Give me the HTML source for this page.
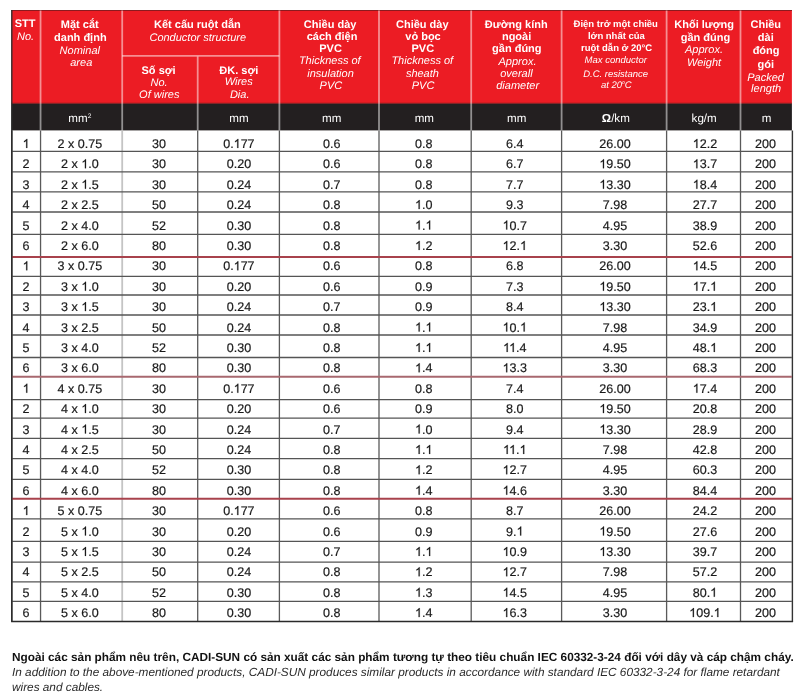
<!DOCTYPE html><html><head><meta charset="utf-8"><style>
html,body{margin:0;padding:0;background:#fff;width:801px;height:700px;overflow:hidden}
svg{position:absolute;left:0;top:0;display:block;filter:blur(0.45px)}
text{font-family:"Liberation Sans", sans-serif;text-rendering:geometricPrecision}
.h{font-weight:bold;font-size:11px;fill:#fff}
.i{font-style:italic;font-size:11px;fill:#fff}
.h8{font-weight:bold;font-size:9.5px;fill:#fff}
.i8{font-style:italic;font-size:9.5px;fill:#fff}
.u{font-size:11.6px;fill:#fff}
.d{font-size:12.55px;fill:#1a1a1a;stroke:#1a1a1a;stroke-width:0.2px}
.o1{fill:none;stroke:none}
.fb{font-weight:bold;font-size:11.8px;fill:#111}
.fi{font-style:italic;font-size:11.8px;fill:#2a2a2a}
</style></head><body>
<svg width="801" height="700" viewBox="0 0 801 700">
<rect x="11.5" y="10" width="780.4" height="93.6" fill="#ec1c24"/>
<rect x="11.5" y="103.6" width="780.4" height="26.80000000000001" fill="#231f20"/>
<rect x="11.5" y="10" width="780.4" height="1" fill="#8b1a1f"/>
<rect x="11.5" y="102.8" width="780.4" height="1" fill="#7a1a1d"/>
<line x1="40.55" y1="10.5" x2="40.55" y2="130.4" stroke="#fff" stroke-opacity="0.5" stroke-width="1.8"/>
<line x1="122.2" y1="10.5" x2="122.2" y2="130.4" stroke="#fff" stroke-opacity="0.5" stroke-width="1.8"/>
<line x1="279.4" y1="10.5" x2="279.4" y2="130.4" stroke="#fff" stroke-opacity="0.5" stroke-width="1.8"/>
<line x1="379" y1="10.5" x2="379" y2="130.4" stroke="#fff" stroke-opacity="0.5" stroke-width="1.8"/>
<line x1="471.2" y1="10.5" x2="471.2" y2="130.4" stroke="#fff" stroke-opacity="0.5" stroke-width="1.8"/>
<line x1="561.6" y1="10.5" x2="561.6" y2="130.4" stroke="#fff" stroke-opacity="0.5" stroke-width="1.8"/>
<line x1="666.6" y1="10.5" x2="666.6" y2="130.4" stroke="#fff" stroke-opacity="0.5" stroke-width="1.8"/>
<line x1="740.5" y1="10.5" x2="740.5" y2="130.4" stroke="#fff" stroke-opacity="0.5" stroke-width="1.8"/>
<line x1="197.7" y1="56.4" x2="197.7" y2="130.4" stroke="#fff" stroke-opacity="0.5" stroke-width="1.8"/>
<line x1="122.2" y1="55.9" x2="279.4" y2="55.9" stroke="#fff" stroke-opacity="0.5" stroke-width="1.8"/>
<line x1="11.8" y1="130.4" x2="11.8" y2="621.5" stroke="#333" stroke-width="1.4"/>
<line x1="40.55" y1="130.4" x2="40.55" y2="621.5" stroke="#5a5a5a" stroke-width="1.3"/>
<line x1="122.2" y1="130.4" x2="122.2" y2="621.5" stroke="#c4c4c4" stroke-width="1.8"/>
<line x1="197.7" y1="130.4" x2="197.7" y2="621.5" stroke="#5a5a5a" stroke-width="1.3"/>
<line x1="279.4" y1="130.4" x2="279.4" y2="621.5" stroke="#5a5a5a" stroke-width="1.3"/>
<line x1="379" y1="130.4" x2="379" y2="621.5" stroke="#5a5a5a" stroke-width="1.3"/>
<line x1="471.2" y1="130.4" x2="471.2" y2="621.5" stroke="#5a5a5a" stroke-width="1.3"/>
<line x1="561.6" y1="130.4" x2="561.6" y2="621.5" stroke="#5a5a5a" stroke-width="1.3"/>
<line x1="666.6" y1="130.4" x2="666.6" y2="621.5" stroke="#5a5a5a" stroke-width="1.3"/>
<line x1="740.5" y1="130.4" x2="740.5" y2="621.5" stroke="#5a5a5a" stroke-width="1.3"/>
<line x1="792.4" y1="130.4" x2="792.4" y2="621.5" stroke="#333" stroke-width="1.4"/>
<line x1="11.5" y1="151.4" x2="791.9" y2="151.4" stroke="#555" stroke-width="1.3"/>
<line x1="11.5" y1="171.85" x2="791.9" y2="171.85" stroke="#555" stroke-width="1.3"/>
<line x1="11.5" y1="191.9" x2="791.9" y2="191.9" stroke="#555" stroke-width="1.3"/>
<line x1="11.5" y1="212" x2="791.9" y2="212" stroke="#555" stroke-width="1.3"/>
<line x1="11.5" y1="234.4" x2="791.9" y2="234.4" stroke="#555" stroke-width="1.3"/>
<line x1="11.5" y1="276.3" x2="791.9" y2="276.3" stroke="#555" stroke-width="1.3"/>
<line x1="11.5" y1="295" x2="791.9" y2="295" stroke="#555" stroke-width="1.3"/>
<line x1="11.5" y1="315" x2="791.9" y2="315" stroke="#555" stroke-width="1.3"/>
<line x1="11.5" y1="335" x2="791.9" y2="335" stroke="#555" stroke-width="1.3"/>
<line x1="11.5" y1="357.5" x2="791.9" y2="357.5" stroke="#555" stroke-width="1.3"/>
<line x1="11.5" y1="399.6" x2="791.9" y2="399.6" stroke="#555" stroke-width="1.3"/>
<line x1="11.5" y1="418.2" x2="791.9" y2="418.2" stroke="#555" stroke-width="1.3"/>
<line x1="11.5" y1="438.4" x2="791.9" y2="438.4" stroke="#555" stroke-width="1.3"/>
<line x1="11.5" y1="458.6" x2="791.9" y2="458.6" stroke="#555" stroke-width="1.3"/>
<line x1="11.5" y1="479.3" x2="791.9" y2="479.3" stroke="#555" stroke-width="1.3"/>
<line x1="11.5" y1="518.9" x2="791.9" y2="518.9" stroke="#555" stroke-width="1.3"/>
<line x1="11.5" y1="541.4" x2="791.9" y2="541.4" stroke="#555" stroke-width="1.3"/>
<line x1="11.5" y1="562.1" x2="791.9" y2="562.1" stroke="#555" stroke-width="1.3"/>
<line x1="11.5" y1="581.9" x2="791.9" y2="581.9" stroke="#555" stroke-width="1.3"/>
<line x1="11.5" y1="601.4" x2="791.9" y2="601.4" stroke="#555" stroke-width="1.3"/>
<line x1="11.5" y1="257" x2="791.9" y2="257" stroke="#a8424c" stroke-width="1.9"/>
<line x1="11.5" y1="376.8" x2="791.9" y2="376.8" stroke="#a8686f" stroke-width="1.9"/>
<line x1="11.5" y1="498.8" x2="791.9" y2="498.8" stroke="#a8424c" stroke-width="1.9"/>
<line x1="11.8" y1="10" x2="11.8" y2="621.5" stroke="#2a2a2a" stroke-width="1.3"/>
<line x1="11.1" y1="621.5" x2="793.1" y2="621.5" stroke="#2a2a2a" stroke-width="1.3"/>
<text x="25.15" y="27.4" class="h" text-anchor="middle">STT</text>
<text x="25.5" y="40.3" class="i" text-anchor="middle">No.</text>
<text x="79.75" y="27.6" class="h" text-anchor="middle">Mặt cắt</text>
<text x="80.35" y="41.2" class="h" text-anchor="middle">danh định</text>
<text x="79.8" y="54.1" class="i" text-anchor="middle">Nominal</text>
<text x="81.25" y="66.3" class="i" text-anchor="middle">area</text>
<text x="197.4" y="27.6" class="h" text-anchor="middle">Kết cấu ruột dẫn</text>
<text x="197.75" y="40.7" class="i" text-anchor="middle">Conductor structure</text>
<text x="158.6" y="73.8" class="h" text-anchor="middle">Số sợi</text>
<text x="159.05" y="85.5" class="i" text-anchor="middle">No.</text>
<text x="159.25" y="97.5" class="i" text-anchor="middle">Of wires</text>
<text x="238.85" y="73.5" class="h" text-anchor="middle">ĐK. sợi</text>
<text x="238.7" y="85.4" class="i" text-anchor="middle">Wires</text>
<text x="239.7" y="97.6" class="i" text-anchor="middle">Dia.</text>
<text x="330.1" y="27.6" class="h" text-anchor="middle">Chiều dày</text>
<text x="332.1" y="39.6" class="h" text-anchor="middle">cách điện</text>
<text x="330.55" y="51.8" class="h" text-anchor="middle">PVC</text>
<text x="329.75" y="64.3" class="i" text-anchor="middle">Thickness of</text>
<text x="330.55" y="77.2" class="i" text-anchor="middle">insulation</text>
<text x="330.9" y="89.4" class="i" text-anchor="middle">PVC</text>
<text x="422.3" y="27.6" class="h" text-anchor="middle">Chiều dày</text>
<text x="423.0" y="39.6" class="h" text-anchor="middle">vỏ bọc</text>
<text x="422.8" y="51.8" class="h" text-anchor="middle">PVC</text>
<text x="422.25" y="64.3" class="i" text-anchor="middle">Thickness of</text>
<text x="422.4" y="77.2" class="i" text-anchor="middle">sheath</text>
<text x="423.1" y="89.4" class="i" text-anchor="middle">PVC</text>
<text x="516.25" y="28" class="h" text-anchor="middle">Đường kính</text>
<text x="516.6" y="40.2" class="h" text-anchor="middle">ngoài</text>
<text x="516.8" y="52.2" class="h" text-anchor="middle">gần đúng</text>
<text x="517.5" y="64.8" class="i" text-anchor="middle">Approx.</text>
<text x="516.4" y="77.3" class="i" text-anchor="middle">overall</text>
<text x="517.65" y="89.4" class="i" text-anchor="middle">diameter</text>
<text x="615.75" y="27.4" class="h8" text-anchor="middle">Điện trở một chiều</text>
<text x="616.45" y="39.2" class="h8" text-anchor="middle">lớn nhất của</text>
<text x="616.6" y="51.4" class="h8" text-anchor="middle">ruột dẫn ở 20°C</text>
<text x="615.75" y="63.4" class="i8" text-anchor="middle">Max conductor</text>
<text x="615.6" y="76.7" class="i8" text-anchor="middle">D.C. resistance</text>
<text x="616.3" y="88.2" class="i8" text-anchor="middle">at 20<tspan font-size="5" dy="-4.3">o</tspan><tspan dy="4.3">C</tspan></text>
<text x="704.15" y="28.2" class="h" text-anchor="middle">Khối lượng</text>
<text x="705.45" y="41" class="h" text-anchor="middle">gần đúng</text>
<text x="704.0" y="53" class="i" text-anchor="middle">Approx.</text>
<text x="704.1" y="65.6" class="i" text-anchor="middle">Weight</text>
<text x="765.8" y="27.6" class="h" text-anchor="middle">Chiều</text>
<text x="765.75" y="40.6" class="h" text-anchor="middle">dài</text>
<text x="766.1" y="53.8" class="h" text-anchor="middle">đóng</text>
<text x="765.75" y="67.6" class="h" text-anchor="middle">gói</text>
<text x="765.6" y="80.6" class="i" text-anchor="middle">Packed</text>
<text x="766.1" y="92.4" class="i" text-anchor="middle">length</text>
<text x="79.8" y="121.8" class="u" text-anchor="middle">mm<tspan font-size="6.6" dy="-3.5">2</tspan></text>
<text x="238.95" y="121.8" class="u" text-anchor="middle">mm</text>
<text x="331.7" y="121.8" class="u" text-anchor="middle">mm</text>
<text x="424.3" y="121.8" class="u" text-anchor="middle">mm</text>
<text x="516.75" y="121.8" class="u" text-anchor="middle">mm</text>
<text x="615.85" y="121.8" class="u" text-anchor="middle"><tspan font-weight="bold">Ω</tspan>/km</text>
<text x="704.15" y="121.8" class="u" text-anchor="middle">kg/m</text>
<text x="766.48" y="121.8" class="u" text-anchor="middle">m</text>
<text x="26.1" y="147.9" class="d" text-anchor="middle"><tspan class="o1">1</tspan></text>
<text x="79.95" y="147.9" class="d" text-anchor="middle">2 x 0.75</text>
<text x="158.9" y="147.9" class="d" text-anchor="middle">30</text>
<text x="238.9" y="147.9" class="d" text-anchor="middle">0.<tspan class="o1">1</tspan>77</text>
<text x="331.75" y="147.9" class="d" text-anchor="middle">0.6</text>
<text x="423.75" y="147.9" class="d" text-anchor="middle">0.8</text>
<text x="514.8" y="147.9" class="d" text-anchor="middle">6.4</text>
<text x="615.05" y="147.9" class="d" text-anchor="middle">26.00</text>
<text x="704.9499999999999" y="147.9" class="d" text-anchor="middle"><tspan class="o1">1</tspan>2.2</text>
<text x="765.5" y="147.9" class="d" text-anchor="middle">200</text>
<text x="26.1" y="168.3" class="d" text-anchor="middle">2</text>
<text x="79.95" y="168.3" class="d" text-anchor="middle">2 x <tspan class="o1">1</tspan>.0</text>
<text x="158.9" y="168.3" class="d" text-anchor="middle">30</text>
<text x="238.9" y="168.3" class="d" text-anchor="middle">0.20</text>
<text x="331.75" y="168.3" class="d" text-anchor="middle">0.6</text>
<text x="423.75" y="168.3" class="d" text-anchor="middle">0.8</text>
<text x="514.8" y="168.3" class="d" text-anchor="middle">6.7</text>
<text x="615.05" y="168.3" class="d" text-anchor="middle"><tspan class="o1">1</tspan>9.50</text>
<text x="704.9499999999999" y="168.3" class="d" text-anchor="middle"><tspan class="o1">1</tspan>3.7</text>
<text x="765.5" y="168.3" class="d" text-anchor="middle">200</text>
<text x="26.1" y="188.7" class="d" text-anchor="middle">3</text>
<text x="79.95" y="188.7" class="d" text-anchor="middle">2 x <tspan class="o1">1</tspan>.5</text>
<text x="158.9" y="188.7" class="d" text-anchor="middle">30</text>
<text x="238.9" y="188.7" class="d" text-anchor="middle">0.24</text>
<text x="331.75" y="188.7" class="d" text-anchor="middle">0.7</text>
<text x="423.75" y="188.7" class="d" text-anchor="middle">0.8</text>
<text x="514.8" y="188.7" class="d" text-anchor="middle">7.7</text>
<text x="615.05" y="188.7" class="d" text-anchor="middle"><tspan class="o1">1</tspan>3.30</text>
<text x="704.9499999999999" y="188.7" class="d" text-anchor="middle"><tspan class="o1">1</tspan>8.4</text>
<text x="765.5" y="188.7" class="d" text-anchor="middle">200</text>
<text x="26.1" y="209.1" class="d" text-anchor="middle">4</text>
<text x="79.95" y="209.1" class="d" text-anchor="middle">2 x 2.5</text>
<text x="158.9" y="209.1" class="d" text-anchor="middle">50</text>
<text x="238.9" y="209.1" class="d" text-anchor="middle">0.24</text>
<text x="331.75" y="209.1" class="d" text-anchor="middle">0.8</text>
<text x="423.75" y="209.1" class="d" text-anchor="middle"><tspan class="o1">1</tspan>.0</text>
<text x="514.8" y="209.1" class="d" text-anchor="middle">9.3</text>
<text x="615.05" y="209.1" class="d" text-anchor="middle">7.98</text>
<text x="704.9499999999999" y="209.1" class="d" text-anchor="middle">27.7</text>
<text x="765.5" y="209.1" class="d" text-anchor="middle">200</text>
<text x="26.1" y="229.5" class="d" text-anchor="middle">5</text>
<text x="79.95" y="229.5" class="d" text-anchor="middle">2 x 4.0</text>
<text x="158.9" y="229.5" class="d" text-anchor="middle">52</text>
<text x="238.9" y="229.5" class="d" text-anchor="middle">0.30</text>
<text x="331.75" y="229.5" class="d" text-anchor="middle">0.8</text>
<text x="423.75" y="229.5" class="d" text-anchor="middle"><tspan class="o1">1</tspan>.<tspan class="o1">1</tspan></text>
<text x="514.8" y="229.5" class="d" text-anchor="middle"><tspan class="o1">1</tspan>0.7</text>
<text x="615.05" y="229.5" class="d" text-anchor="middle">4.95</text>
<text x="704.9499999999999" y="229.5" class="d" text-anchor="middle">38.9</text>
<text x="765.5" y="229.5" class="d" text-anchor="middle">200</text>
<text x="26.1" y="249.9" class="d" text-anchor="middle">6</text>
<text x="79.95" y="249.9" class="d" text-anchor="middle">2 x 6.0</text>
<text x="158.9" y="249.9" class="d" text-anchor="middle">80</text>
<text x="238.9" y="249.9" class="d" text-anchor="middle">0.30</text>
<text x="331.75" y="249.9" class="d" text-anchor="middle">0.8</text>
<text x="423.75" y="249.9" class="d" text-anchor="middle"><tspan class="o1">1</tspan>.2</text>
<text x="514.8" y="249.9" class="d" text-anchor="middle"><tspan class="o1">1</tspan>2.<tspan class="o1">1</tspan></text>
<text x="615.05" y="249.9" class="d" text-anchor="middle">3.30</text>
<text x="704.9499999999999" y="249.9" class="d" text-anchor="middle">52.6</text>
<text x="765.5" y="249.9" class="d" text-anchor="middle">200</text>
<text x="26.1" y="270.3" class="d" text-anchor="middle"><tspan class="o1">1</tspan></text>
<text x="79.95" y="270.3" class="d" text-anchor="middle">3 x 0.75</text>
<text x="158.9" y="270.3" class="d" text-anchor="middle">30</text>
<text x="238.9" y="270.3" class="d" text-anchor="middle">0.<tspan class="o1">1</tspan>77</text>
<text x="331.75" y="270.3" class="d" text-anchor="middle">0.6</text>
<text x="423.75" y="270.3" class="d" text-anchor="middle">0.8</text>
<text x="514.8" y="270.3" class="d" text-anchor="middle">6.8</text>
<text x="615.05" y="270.3" class="d" text-anchor="middle">26.00</text>
<text x="704.9499999999999" y="270.3" class="d" text-anchor="middle"><tspan class="o1">1</tspan>4.5</text>
<text x="765.5" y="270.3" class="d" text-anchor="middle">200</text>
<text x="26.1" y="290.7" class="d" text-anchor="middle">2</text>
<text x="79.95" y="290.7" class="d" text-anchor="middle">3 x <tspan class="o1">1</tspan>.0</text>
<text x="158.9" y="290.7" class="d" text-anchor="middle">30</text>
<text x="238.9" y="290.7" class="d" text-anchor="middle">0.20</text>
<text x="331.75" y="290.7" class="d" text-anchor="middle">0.6</text>
<text x="423.75" y="290.7" class="d" text-anchor="middle">0.9</text>
<text x="514.8" y="290.7" class="d" text-anchor="middle">7.3</text>
<text x="615.05" y="290.7" class="d" text-anchor="middle"><tspan class="o1">1</tspan>9.50</text>
<text x="704.9499999999999" y="290.7" class="d" text-anchor="middle"><tspan class="o1">1</tspan>7.<tspan class="o1">1</tspan></text>
<text x="765.5" y="290.7" class="d" text-anchor="middle">200</text>
<text x="26.1" y="311.1" class="d" text-anchor="middle">3</text>
<text x="79.95" y="311.1" class="d" text-anchor="middle">3 x <tspan class="o1">1</tspan>.5</text>
<text x="158.9" y="311.1" class="d" text-anchor="middle">30</text>
<text x="238.9" y="311.1" class="d" text-anchor="middle">0.24</text>
<text x="331.75" y="311.1" class="d" text-anchor="middle">0.7</text>
<text x="423.75" y="311.1" class="d" text-anchor="middle">0.9</text>
<text x="514.8" y="311.1" class="d" text-anchor="middle">8.4</text>
<text x="615.05" y="311.1" class="d" text-anchor="middle"><tspan class="o1">1</tspan>3.30</text>
<text x="704.9499999999999" y="311.1" class="d" text-anchor="middle">23.<tspan class="o1">1</tspan></text>
<text x="765.5" y="311.1" class="d" text-anchor="middle">200</text>
<text x="26.1" y="331.5" class="d" text-anchor="middle">4</text>
<text x="79.95" y="331.5" class="d" text-anchor="middle">3 x 2.5</text>
<text x="158.9" y="331.5" class="d" text-anchor="middle">50</text>
<text x="238.9" y="331.5" class="d" text-anchor="middle">0.24</text>
<text x="331.75" y="331.5" class="d" text-anchor="middle">0.8</text>
<text x="423.75" y="331.5" class="d" text-anchor="middle"><tspan class="o1">1</tspan>.<tspan class="o1">1</tspan></text>
<text x="514.8" y="331.5" class="d" text-anchor="middle"><tspan class="o1">1</tspan>0.<tspan class="o1">1</tspan></text>
<text x="615.05" y="331.5" class="d" text-anchor="middle">7.98</text>
<text x="704.9499999999999" y="331.5" class="d" text-anchor="middle">34.9</text>
<text x="765.5" y="331.5" class="d" text-anchor="middle">200</text>
<text x="26.1" y="351.9" class="d" text-anchor="middle">5</text>
<text x="79.95" y="351.9" class="d" text-anchor="middle">3 x 4.0</text>
<text x="158.9" y="351.9" class="d" text-anchor="middle">52</text>
<text x="238.9" y="351.9" class="d" text-anchor="middle">0.30</text>
<text x="331.75" y="351.9" class="d" text-anchor="middle">0.8</text>
<text x="423.75" y="351.9" class="d" text-anchor="middle"><tspan class="o1">1</tspan>.<tspan class="o1">1</tspan></text>
<text x="514.8" y="351.9" class="d" text-anchor="middle"><tspan class="o1">1</tspan><tspan class="o1">1</tspan>.4</text>
<text x="615.05" y="351.9" class="d" text-anchor="middle">4.95</text>
<text x="704.9499999999999" y="351.9" class="d" text-anchor="middle">48.<tspan class="o1">1</tspan></text>
<text x="765.5" y="351.9" class="d" text-anchor="middle">200</text>
<text x="26.1" y="372.3" class="d" text-anchor="middle">6</text>
<text x="79.95" y="372.3" class="d" text-anchor="middle">3 x 6.0</text>
<text x="158.9" y="372.3" class="d" text-anchor="middle">80</text>
<text x="238.9" y="372.3" class="d" text-anchor="middle">0.30</text>
<text x="331.75" y="372.3" class="d" text-anchor="middle">0.8</text>
<text x="423.75" y="372.3" class="d" text-anchor="middle"><tspan class="o1">1</tspan>.4</text>
<text x="514.8" y="372.3" class="d" text-anchor="middle"><tspan class="o1">1</tspan>3.3</text>
<text x="615.05" y="372.3" class="d" text-anchor="middle">3.30</text>
<text x="704.9499999999999" y="372.3" class="d" text-anchor="middle">68.3</text>
<text x="765.5" y="372.3" class="d" text-anchor="middle">200</text>
<text x="26.1" y="392.7" class="d" text-anchor="middle"><tspan class="o1">1</tspan></text>
<text x="79.95" y="392.7" class="d" text-anchor="middle">4 x 0.75</text>
<text x="158.9" y="392.7" class="d" text-anchor="middle">30</text>
<text x="238.9" y="392.7" class="d" text-anchor="middle">0.<tspan class="o1">1</tspan>77</text>
<text x="331.75" y="392.7" class="d" text-anchor="middle">0.6</text>
<text x="423.75" y="392.7" class="d" text-anchor="middle">0.8</text>
<text x="514.8" y="392.7" class="d" text-anchor="middle">7.4</text>
<text x="615.05" y="392.7" class="d" text-anchor="middle">26.00</text>
<text x="704.9499999999999" y="392.7" class="d" text-anchor="middle"><tspan class="o1">1</tspan>7.4</text>
<text x="765.5" y="392.7" class="d" text-anchor="middle">200</text>
<text x="26.1" y="413.1" class="d" text-anchor="middle">2</text>
<text x="79.95" y="413.1" class="d" text-anchor="middle">4 x <tspan class="o1">1</tspan>.0</text>
<text x="158.9" y="413.1" class="d" text-anchor="middle">30</text>
<text x="238.9" y="413.1" class="d" text-anchor="middle">0.20</text>
<text x="331.75" y="413.1" class="d" text-anchor="middle">0.6</text>
<text x="423.75" y="413.1" class="d" text-anchor="middle">0.9</text>
<text x="514.8" y="413.1" class="d" text-anchor="middle">8.0</text>
<text x="615.05" y="413.1" class="d" text-anchor="middle"><tspan class="o1">1</tspan>9.50</text>
<text x="704.9499999999999" y="413.1" class="d" text-anchor="middle">20.8</text>
<text x="765.5" y="413.1" class="d" text-anchor="middle">200</text>
<text x="26.1" y="433.5" class="d" text-anchor="middle">3</text>
<text x="79.95" y="433.5" class="d" text-anchor="middle">4 x <tspan class="o1">1</tspan>.5</text>
<text x="158.9" y="433.5" class="d" text-anchor="middle">30</text>
<text x="238.9" y="433.5" class="d" text-anchor="middle">0.24</text>
<text x="331.75" y="433.5" class="d" text-anchor="middle">0.7</text>
<text x="423.75" y="433.5" class="d" text-anchor="middle"><tspan class="o1">1</tspan>.0</text>
<text x="514.8" y="433.5" class="d" text-anchor="middle">9.4</text>
<text x="615.05" y="433.5" class="d" text-anchor="middle"><tspan class="o1">1</tspan>3.30</text>
<text x="704.9499999999999" y="433.5" class="d" text-anchor="middle">28.9</text>
<text x="765.5" y="433.5" class="d" text-anchor="middle">200</text>
<text x="26.1" y="453.9" class="d" text-anchor="middle">4</text>
<text x="79.95" y="453.9" class="d" text-anchor="middle">4 x 2.5</text>
<text x="158.9" y="453.9" class="d" text-anchor="middle">50</text>
<text x="238.9" y="453.9" class="d" text-anchor="middle">0.24</text>
<text x="331.75" y="453.9" class="d" text-anchor="middle">0.8</text>
<text x="423.75" y="453.9" class="d" text-anchor="middle"><tspan class="o1">1</tspan>.<tspan class="o1">1</tspan></text>
<text x="514.8" y="453.9" class="d" text-anchor="middle"><tspan class="o1">1</tspan><tspan class="o1">1</tspan>.<tspan class="o1">1</tspan></text>
<text x="615.05" y="453.9" class="d" text-anchor="middle">7.98</text>
<text x="704.9499999999999" y="453.9" class="d" text-anchor="middle">42.8</text>
<text x="765.5" y="453.9" class="d" text-anchor="middle">200</text>
<text x="26.1" y="474.3" class="d" text-anchor="middle">5</text>
<text x="79.95" y="474.3" class="d" text-anchor="middle">4 x 4.0</text>
<text x="158.9" y="474.3" class="d" text-anchor="middle">52</text>
<text x="238.9" y="474.3" class="d" text-anchor="middle">0.30</text>
<text x="331.75" y="474.3" class="d" text-anchor="middle">0.8</text>
<text x="423.75" y="474.3" class="d" text-anchor="middle"><tspan class="o1">1</tspan>.2</text>
<text x="514.8" y="474.3" class="d" text-anchor="middle"><tspan class="o1">1</tspan>2.7</text>
<text x="615.05" y="474.3" class="d" text-anchor="middle">4.95</text>
<text x="704.9499999999999" y="474.3" class="d" text-anchor="middle">60.3</text>
<text x="765.5" y="474.3" class="d" text-anchor="middle">200</text>
<text x="26.1" y="494.7" class="d" text-anchor="middle">6</text>
<text x="79.95" y="494.7" class="d" text-anchor="middle">4 x 6.0</text>
<text x="158.9" y="494.7" class="d" text-anchor="middle">80</text>
<text x="238.9" y="494.7" class="d" text-anchor="middle">0.30</text>
<text x="331.75" y="494.7" class="d" text-anchor="middle">0.8</text>
<text x="423.75" y="494.7" class="d" text-anchor="middle"><tspan class="o1">1</tspan>.4</text>
<text x="514.8" y="494.7" class="d" text-anchor="middle"><tspan class="o1">1</tspan>4.6</text>
<text x="615.05" y="494.7" class="d" text-anchor="middle">3.30</text>
<text x="704.9499999999999" y="494.7" class="d" text-anchor="middle">84.4</text>
<text x="765.5" y="494.7" class="d" text-anchor="middle">200</text>
<text x="26.1" y="515.1" class="d" text-anchor="middle"><tspan class="o1">1</tspan></text>
<text x="79.95" y="515.1" class="d" text-anchor="middle">5 x 0.75</text>
<text x="158.9" y="515.1" class="d" text-anchor="middle">30</text>
<text x="238.9" y="515.1" class="d" text-anchor="middle">0.<tspan class="o1">1</tspan>77</text>
<text x="331.75" y="515.1" class="d" text-anchor="middle">0.6</text>
<text x="423.75" y="515.1" class="d" text-anchor="middle">0.8</text>
<text x="514.8" y="515.1" class="d" text-anchor="middle">8.7</text>
<text x="615.05" y="515.1" class="d" text-anchor="middle">26.00</text>
<text x="704.9499999999999" y="515.1" class="d" text-anchor="middle">24.2</text>
<text x="765.5" y="515.1" class="d" text-anchor="middle">200</text>
<text x="26.1" y="535.5" class="d" text-anchor="middle">2</text>
<text x="79.95" y="535.5" class="d" text-anchor="middle">5 x <tspan class="o1">1</tspan>.0</text>
<text x="158.9" y="535.5" class="d" text-anchor="middle">30</text>
<text x="238.9" y="535.5" class="d" text-anchor="middle">0.20</text>
<text x="331.75" y="535.5" class="d" text-anchor="middle">0.6</text>
<text x="423.75" y="535.5" class="d" text-anchor="middle">0.9</text>
<text x="514.8" y="535.5" class="d" text-anchor="middle">9.<tspan class="o1">1</tspan></text>
<text x="615.05" y="535.5" class="d" text-anchor="middle"><tspan class="o1">1</tspan>9.50</text>
<text x="704.9499999999999" y="535.5" class="d" text-anchor="middle">27.6</text>
<text x="765.5" y="535.5" class="d" text-anchor="middle">200</text>
<text x="26.1" y="555.9" class="d" text-anchor="middle">3</text>
<text x="79.95" y="555.9" class="d" text-anchor="middle">5 x <tspan class="o1">1</tspan>.5</text>
<text x="158.9" y="555.9" class="d" text-anchor="middle">30</text>
<text x="238.9" y="555.9" class="d" text-anchor="middle">0.24</text>
<text x="331.75" y="555.9" class="d" text-anchor="middle">0.7</text>
<text x="423.75" y="555.9" class="d" text-anchor="middle"><tspan class="o1">1</tspan>.<tspan class="o1">1</tspan></text>
<text x="514.8" y="555.9" class="d" text-anchor="middle"><tspan class="o1">1</tspan>0.9</text>
<text x="615.05" y="555.9" class="d" text-anchor="middle"><tspan class="o1">1</tspan>3.30</text>
<text x="704.9499999999999" y="555.9" class="d" text-anchor="middle">39.7</text>
<text x="765.5" y="555.9" class="d" text-anchor="middle">200</text>
<text x="26.1" y="576.3" class="d" text-anchor="middle">4</text>
<text x="79.95" y="576.3" class="d" text-anchor="middle">5 x 2.5</text>
<text x="158.9" y="576.3" class="d" text-anchor="middle">50</text>
<text x="238.9" y="576.3" class="d" text-anchor="middle">0.24</text>
<text x="331.75" y="576.3" class="d" text-anchor="middle">0.8</text>
<text x="423.75" y="576.3" class="d" text-anchor="middle"><tspan class="o1">1</tspan>.2</text>
<text x="514.8" y="576.3" class="d" text-anchor="middle"><tspan class="o1">1</tspan>2.7</text>
<text x="615.05" y="576.3" class="d" text-anchor="middle">7.98</text>
<text x="704.9499999999999" y="576.3" class="d" text-anchor="middle">57.2</text>
<text x="765.5" y="576.3" class="d" text-anchor="middle">200</text>
<text x="26.1" y="596.7" class="d" text-anchor="middle">5</text>
<text x="79.95" y="596.7" class="d" text-anchor="middle">5 x 4.0</text>
<text x="158.9" y="596.7" class="d" text-anchor="middle">52</text>
<text x="238.9" y="596.7" class="d" text-anchor="middle">0.30</text>
<text x="331.75" y="596.7" class="d" text-anchor="middle">0.8</text>
<text x="423.75" y="596.7" class="d" text-anchor="middle"><tspan class="o1">1</tspan>.3</text>
<text x="514.8" y="596.7" class="d" text-anchor="middle"><tspan class="o1">1</tspan>4.5</text>
<text x="615.05" y="596.7" class="d" text-anchor="middle">4.95</text>
<text x="704.9499999999999" y="596.7" class="d" text-anchor="middle">80.<tspan class="o1">1</tspan></text>
<text x="765.5" y="596.7" class="d" text-anchor="middle">200</text>
<text x="26.1" y="617.1" class="d" text-anchor="middle">6</text>
<text x="79.95" y="617.1" class="d" text-anchor="middle">5 x 6.0</text>
<text x="158.9" y="617.1" class="d" text-anchor="middle">80</text>
<text x="238.9" y="617.1" class="d" text-anchor="middle">0.30</text>
<text x="331.75" y="617.1" class="d" text-anchor="middle">0.8</text>
<text x="423.75" y="617.1" class="d" text-anchor="middle"><tspan class="o1">1</tspan>.4</text>
<text x="514.8" y="617.1" class="d" text-anchor="middle"><tspan class="o1">1</tspan>6.3</text>
<text x="615.05" y="617.1" class="d" text-anchor="middle">3.30</text>
<text x="704.9499999999999" y="617.1" class="d" text-anchor="middle"><tspan class="o1">1</tspan>09.<tspan class="o1">1</tspan></text>
<text x="765.5" y="617.1" class="d" text-anchor="middle">200</text>
<text x="12" y="660.9" class="fb">Ngoài các sản phẩm nêu trên, CADI-SUN có sản xuất các sản phẩm tương tự theo tiêu chuẩn IEC 60332-3-24 đối với dây và cáp chậm cháy.</text>
<text x="12" y="676" class="fi">In addition to the above-mentioned products, CADI-SUN produces similar products in accordance with standard IEC 60332-3-24 for flame retardant</text>
<text x="12" y="690.7" class="fi">wires and cables.</text>
<defs><path id="one" d="M583 0L763 0L763 1466L646 1466Q599 1370 486 1272Q373 1174 222 1098L222 928Q306 960 412 1022Q518 1084 583 1147Z"/></defs>
<use href="#one" fill="#1a1a1a" stroke="#1a1a1a" stroke-width="32.6" transform="translate(22.61 147.90) scale(0.006128 -0.006128)"/>
<use href="#one" fill="#1a1a1a" stroke="#1a1a1a" stroke-width="32.6" transform="translate(233.66 147.90) scale(0.006128 -0.006128)"/>
<use href="#one" fill="#1a1a1a" stroke="#1a1a1a" stroke-width="32.6" transform="translate(692.73 147.90) scale(0.006128 -0.006128)"/>
<use href="#one" fill="#1a1a1a" stroke="#1a1a1a" stroke-width="32.6" transform="translate(81.34 168.30) scale(0.006128 -0.006128)"/>
<use href="#one" fill="#1a1a1a" stroke="#1a1a1a" stroke-width="32.6" transform="translate(599.35 168.30) scale(0.006128 -0.006128)"/>
<use href="#one" fill="#1a1a1a" stroke="#1a1a1a" stroke-width="32.6" transform="translate(692.73 168.30) scale(0.006128 -0.006128)"/>
<use href="#one" fill="#1a1a1a" stroke="#1a1a1a" stroke-width="32.6" transform="translate(81.34 188.70) scale(0.006128 -0.006128)"/>
<use href="#one" fill="#1a1a1a" stroke="#1a1a1a" stroke-width="32.6" transform="translate(599.35 188.70) scale(0.006128 -0.006128)"/>
<use href="#one" fill="#1a1a1a" stroke="#1a1a1a" stroke-width="32.6" transform="translate(692.73 188.70) scale(0.006128 -0.006128)"/>
<use href="#one" fill="#1a1a1a" stroke="#1a1a1a" stroke-width="32.6" transform="translate(415.02 209.10) scale(0.006128 -0.006128)"/>
<use href="#one" fill="#1a1a1a" stroke="#1a1a1a" stroke-width="32.6" transform="translate(415.02 229.50) scale(0.006128 -0.006128)"/>
<use href="#one" fill="#1a1a1a" stroke="#1a1a1a" stroke-width="32.6" transform="translate(425.50 229.50) scale(0.006128 -0.006128)"/>
<use href="#one" fill="#1a1a1a" stroke="#1a1a1a" stroke-width="32.6" transform="translate(502.58 229.50) scale(0.006128 -0.006128)"/>
<use href="#one" fill="#1a1a1a" stroke="#1a1a1a" stroke-width="32.6" transform="translate(415.02 249.90) scale(0.006128 -0.006128)"/>
<use href="#one" fill="#1a1a1a" stroke="#1a1a1a" stroke-width="32.6" transform="translate(502.58 249.90) scale(0.006128 -0.006128)"/>
<use href="#one" fill="#1a1a1a" stroke="#1a1a1a" stroke-width="32.6" transform="translate(520.03 249.90) scale(0.006128 -0.006128)"/>
<use href="#one" fill="#1a1a1a" stroke="#1a1a1a" stroke-width="32.6" transform="translate(22.61 270.30) scale(0.006128 -0.006128)"/>
<use href="#one" fill="#1a1a1a" stroke="#1a1a1a" stroke-width="32.6" transform="translate(233.66 270.30) scale(0.006128 -0.006128)"/>
<use href="#one" fill="#1a1a1a" stroke="#1a1a1a" stroke-width="32.6" transform="translate(692.73 270.30) scale(0.006128 -0.006128)"/>
<use href="#one" fill="#1a1a1a" stroke="#1a1a1a" stroke-width="32.6" transform="translate(81.34 290.70) scale(0.006128 -0.006128)"/>
<use href="#one" fill="#1a1a1a" stroke="#1a1a1a" stroke-width="32.6" transform="translate(599.35 290.70) scale(0.006128 -0.006128)"/>
<use href="#one" fill="#1a1a1a" stroke="#1a1a1a" stroke-width="32.6" transform="translate(692.73 290.70) scale(0.006128 -0.006128)"/>
<use href="#one" fill="#1a1a1a" stroke="#1a1a1a" stroke-width="32.6" transform="translate(710.18 290.70) scale(0.006128 -0.006128)"/>
<use href="#one" fill="#1a1a1a" stroke="#1a1a1a" stroke-width="32.6" transform="translate(81.34 311.10) scale(0.006128 -0.006128)"/>
<use href="#one" fill="#1a1a1a" stroke="#1a1a1a" stroke-width="32.6" transform="translate(599.35 311.10) scale(0.006128 -0.006128)"/>
<use href="#one" fill="#1a1a1a" stroke="#1a1a1a" stroke-width="32.6" transform="translate(710.18 311.10) scale(0.006128 -0.006128)"/>
<use href="#one" fill="#1a1a1a" stroke="#1a1a1a" stroke-width="32.6" transform="translate(415.02 331.50) scale(0.006128 -0.006128)"/>
<use href="#one" fill="#1a1a1a" stroke="#1a1a1a" stroke-width="32.6" transform="translate(425.50 331.50) scale(0.006128 -0.006128)"/>
<use href="#one" fill="#1a1a1a" stroke="#1a1a1a" stroke-width="32.6" transform="translate(502.58 331.50) scale(0.006128 -0.006128)"/>
<use href="#one" fill="#1a1a1a" stroke="#1a1a1a" stroke-width="32.6" transform="translate(520.03 331.50) scale(0.006128 -0.006128)"/>
<use href="#one" fill="#1a1a1a" stroke="#1a1a1a" stroke-width="32.6" transform="translate(415.02 351.90) scale(0.006128 -0.006128)"/>
<use href="#one" fill="#1a1a1a" stroke="#1a1a1a" stroke-width="32.6" transform="translate(425.50 351.90) scale(0.006128 -0.006128)"/>
<use href="#one" fill="#1a1a1a" stroke="#1a1a1a" stroke-width="32.6" transform="translate(503.05 351.90) scale(0.006128 -0.006128)"/>
<use href="#one" fill="#1a1a1a" stroke="#1a1a1a" stroke-width="32.6" transform="translate(509.10 351.90) scale(0.006128 -0.006128)"/>
<use href="#one" fill="#1a1a1a" stroke="#1a1a1a" stroke-width="32.6" transform="translate(710.18 351.90) scale(0.006128 -0.006128)"/>
<use href="#one" fill="#1a1a1a" stroke="#1a1a1a" stroke-width="32.6" transform="translate(415.02 372.30) scale(0.006128 -0.006128)"/>
<use href="#one" fill="#1a1a1a" stroke="#1a1a1a" stroke-width="32.6" transform="translate(502.58 372.30) scale(0.006128 -0.006128)"/>
<use href="#one" fill="#1a1a1a" stroke="#1a1a1a" stroke-width="32.6" transform="translate(22.61 392.70) scale(0.006128 -0.006128)"/>
<use href="#one" fill="#1a1a1a" stroke="#1a1a1a" stroke-width="32.6" transform="translate(233.66 392.70) scale(0.006128 -0.006128)"/>
<use href="#one" fill="#1a1a1a" stroke="#1a1a1a" stroke-width="32.6" transform="translate(692.73 392.70) scale(0.006128 -0.006128)"/>
<use href="#one" fill="#1a1a1a" stroke="#1a1a1a" stroke-width="32.6" transform="translate(81.34 413.10) scale(0.006128 -0.006128)"/>
<use href="#one" fill="#1a1a1a" stroke="#1a1a1a" stroke-width="32.6" transform="translate(599.35 413.10) scale(0.006128 -0.006128)"/>
<use href="#one" fill="#1a1a1a" stroke="#1a1a1a" stroke-width="32.6" transform="translate(81.34 433.50) scale(0.006128 -0.006128)"/>
<use href="#one" fill="#1a1a1a" stroke="#1a1a1a" stroke-width="32.6" transform="translate(415.02 433.50) scale(0.006128 -0.006128)"/>
<use href="#one" fill="#1a1a1a" stroke="#1a1a1a" stroke-width="32.6" transform="translate(599.35 433.50) scale(0.006128 -0.006128)"/>
<use href="#one" fill="#1a1a1a" stroke="#1a1a1a" stroke-width="32.6" transform="translate(415.02 453.90) scale(0.006128 -0.006128)"/>
<use href="#one" fill="#1a1a1a" stroke="#1a1a1a" stroke-width="32.6" transform="translate(425.50 453.90) scale(0.006128 -0.006128)"/>
<use href="#one" fill="#1a1a1a" stroke="#1a1a1a" stroke-width="32.6" transform="translate(503.04 453.90) scale(0.006128 -0.006128)"/>
<use href="#one" fill="#1a1a1a" stroke="#1a1a1a" stroke-width="32.6" transform="translate(509.09 453.90) scale(0.006128 -0.006128)"/>
<use href="#one" fill="#1a1a1a" stroke="#1a1a1a" stroke-width="32.6" transform="translate(519.57 453.90) scale(0.006128 -0.006128)"/>
<use href="#one" fill="#1a1a1a" stroke="#1a1a1a" stroke-width="32.6" transform="translate(415.02 474.30) scale(0.006128 -0.006128)"/>
<use href="#one" fill="#1a1a1a" stroke="#1a1a1a" stroke-width="32.6" transform="translate(502.58 474.30) scale(0.006128 -0.006128)"/>
<use href="#one" fill="#1a1a1a" stroke="#1a1a1a" stroke-width="32.6" transform="translate(415.02 494.70) scale(0.006128 -0.006128)"/>
<use href="#one" fill="#1a1a1a" stroke="#1a1a1a" stroke-width="32.6" transform="translate(502.58 494.70) scale(0.006128 -0.006128)"/>
<use href="#one" fill="#1a1a1a" stroke="#1a1a1a" stroke-width="32.6" transform="translate(22.61 515.10) scale(0.006128 -0.006128)"/>
<use href="#one" fill="#1a1a1a" stroke="#1a1a1a" stroke-width="32.6" transform="translate(233.66 515.10) scale(0.006128 -0.006128)"/>
<use href="#one" fill="#1a1a1a" stroke="#1a1a1a" stroke-width="32.6" transform="translate(81.34 535.50) scale(0.006128 -0.006128)"/>
<use href="#one" fill="#1a1a1a" stroke="#1a1a1a" stroke-width="32.6" transform="translate(516.54 535.50) scale(0.006128 -0.006128)"/>
<use href="#one" fill="#1a1a1a" stroke="#1a1a1a" stroke-width="32.6" transform="translate(599.35 535.50) scale(0.006128 -0.006128)"/>
<use href="#one" fill="#1a1a1a" stroke="#1a1a1a" stroke-width="32.6" transform="translate(81.34 555.90) scale(0.006128 -0.006128)"/>
<use href="#one" fill="#1a1a1a" stroke="#1a1a1a" stroke-width="32.6" transform="translate(415.02 555.90) scale(0.006128 -0.006128)"/>
<use href="#one" fill="#1a1a1a" stroke="#1a1a1a" stroke-width="32.6" transform="translate(425.50 555.90) scale(0.006128 -0.006128)"/>
<use href="#one" fill="#1a1a1a" stroke="#1a1a1a" stroke-width="32.6" transform="translate(502.58 555.90) scale(0.006128 -0.006128)"/>
<use href="#one" fill="#1a1a1a" stroke="#1a1a1a" stroke-width="32.6" transform="translate(599.35 555.90) scale(0.006128 -0.006128)"/>
<use href="#one" fill="#1a1a1a" stroke="#1a1a1a" stroke-width="32.6" transform="translate(415.02 576.30) scale(0.006128 -0.006128)"/>
<use href="#one" fill="#1a1a1a" stroke="#1a1a1a" stroke-width="32.6" transform="translate(502.58 576.30) scale(0.006128 -0.006128)"/>
<use href="#one" fill="#1a1a1a" stroke="#1a1a1a" stroke-width="32.6" transform="translate(415.02 596.70) scale(0.006128 -0.006128)"/>
<use href="#one" fill="#1a1a1a" stroke="#1a1a1a" stroke-width="32.6" transform="translate(502.58 596.70) scale(0.006128 -0.006128)"/>
<use href="#one" fill="#1a1a1a" stroke="#1a1a1a" stroke-width="32.6" transform="translate(710.18 596.70) scale(0.006128 -0.006128)"/>
<use href="#one" fill="#1a1a1a" stroke="#1a1a1a" stroke-width="32.6" transform="translate(415.02 617.10) scale(0.006128 -0.006128)"/>
<use href="#one" fill="#1a1a1a" stroke="#1a1a1a" stroke-width="32.6" transform="translate(502.58 617.10) scale(0.006128 -0.006128)"/>
<use href="#one" fill="#1a1a1a" stroke="#1a1a1a" stroke-width="32.6" transform="translate(689.24 617.10) scale(0.006128 -0.006128)"/>
<use href="#one" fill="#1a1a1a" stroke="#1a1a1a" stroke-width="32.6" transform="translate(713.68 617.10) scale(0.006128 -0.006128)"/>
</svg></body></html>
